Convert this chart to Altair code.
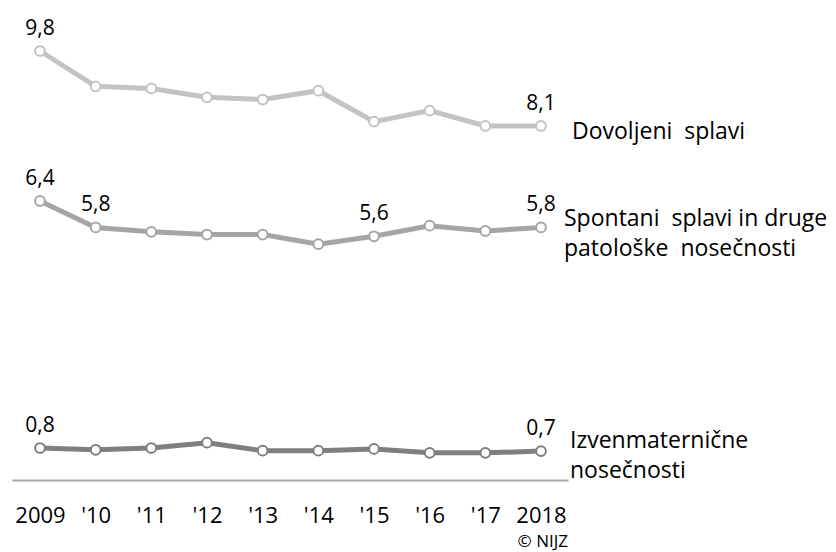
import json
import altair as alt
import pandas as pd

# ---------------- data ----------------
years = [2009, 2010, 2011, 2012, 2013, 2014, 2015, 2016, 2017, 2018]
tick_labels = ["2009", "'10", "'11", "'12", "'13", "'14", "'15", "'16", "'17", "2018"]

series_names = [
    "Dovoljeni splavi",
    "Spontani splavi in druge patološke nosečnosti",
    "Izvenmaternične nosečnosti",
]
NB = "\u00a0"
series_label_lines = [
    ["Dovoljeni" + NB + " splavi"],
    ["Spontani" + NB + " splavi in druge", "patološke" + NB + " nosečnosti"],
    ["Izvenmaternične", "nosečnosti"],
]

dovoljeni = [9.8, 9.0, 8.95, 8.75, 8.7, 8.9, 8.2, 8.45, 8.1, 8.1]
spontani = [6.4, 5.8, 5.7, 5.64, 5.64, 5.42, 5.6, 5.84, 5.72, 5.8]
izven = [0.8, 0.76, 0.8, 0.92, 0.74, 0.74, 0.78, 0.69, 0.69, 0.73]

label_years = [[2009, 2018], [2009, 2010, 2015, 2018], [2009, 2018]]
copyright_text = "© NIJZ"

colors = ["#c3c3c3", "#a5a5a5", "#7f7f7f"]
FONT = "Open Sans"

# ---------------- tables ----------------
all_values = [dovoljeni, spontani, izven]
rows = []
lab_rows = []
for name, vals, lyears in zip(series_names, all_values, label_years):
    for y, v in zip(years, vals):
        rows.append({"series": name, "year": y, "value": v})
        if y in lyears:
            lab_rows.append({"series": name, "year": y, "value": v,
                             "label": f"{v:.1f}".replace(".", ",")})
df = pd.DataFrame(rows)
df_lab = pd.DataFrame(lab_rows)

x_enc = alt.X(
    "year:Q",
    scale=alt.Scale(domain=[2008.497, 2018.485], nice=False, zero=False),
    axis=alt.Axis(
        values=years,
        labelExpr=json.dumps(tick_labels) + "[datum.value - 2009]",
        ticks=False,
        tickSize=0,
        grid=False,
        domainColor="#a6a6a6",
        domainWidth=2,
        labelFont=FONT,
        labelFontSize=22,
        labelColor="#000000",
        labelPadding=25,
        labelFlush=False,
        labelOverlap=False,
        title=None,
    ),
)
y_enc = alt.Y(
    "value:Q",
    scale=alt.Scale(domain=[0.8, 9.8], range=[440, 43], nice=False, zero=False),
    axis=None,
)
col_scale = alt.Scale(domain=series_names, range=colors)

lines = alt.Chart(df).mark_line(strokeWidth=5).encode(
    x=x_enc, y=y_enc,
    color=alt.Color("series:N", scale=col_scale, legend=None),
)
points = alt.Chart(df).mark_circle(size=95, fill="white", strokeWidth=2, opacity=1, fillOpacity=1).encode(
    x="year:Q", y="value:Q",
    stroke=alt.Stroke("series:N", scale=col_scale, legend=None),
)
value_labels = alt.Chart(df_lab).mark_text(
    font=FONT, fontSize=21, dy=-16, baseline="alphabetic", align="center", color="#000000"
).encode(x="year:Q", y="value:Q", text="label:N")

offsets = [(31, 13), (23, -1), (29, -3)]
name_layers = []
for name, vals, lines_txt, (dx, dy) in zip(series_names, all_values, series_label_lines, offsets):
    d = pd.DataFrame({"year": [years[-1]], "value": [vals[-1]], "txt": [lines_txt]})
    name_layers.append(
        alt.Chart(d).mark_text(
            font=FONT, fontSize=23, align="left", baseline="alphabetic",
            dx=dx, dy=dy, lineHeight=30, color="#000000"
        ).encode(x="year:Q", y="value:Q", text="txt")
    )

copyright = alt.Chart(pd.DataFrame({"t": [copyright_text]})).mark_text(
    font=FONT, fontSize=17, align="right", baseline="alphabetic", color="#000000"
).encode(x=alt.value(556), y=alt.value(539), text="t:N")

chart = alt.layer(lines, points, value_labels, *name_layers, copyright).properties(
    width=556,
    height=472,
    padding={"left": 4, "top": 0, "right": 260, "bottom": 71},
    autosize=alt.AutoSizeParams(type="none"),
    background="white",
).configure_view(stroke=None)

chart.save("out.html", embed_options={"renderer": "svg", "actions": False})
